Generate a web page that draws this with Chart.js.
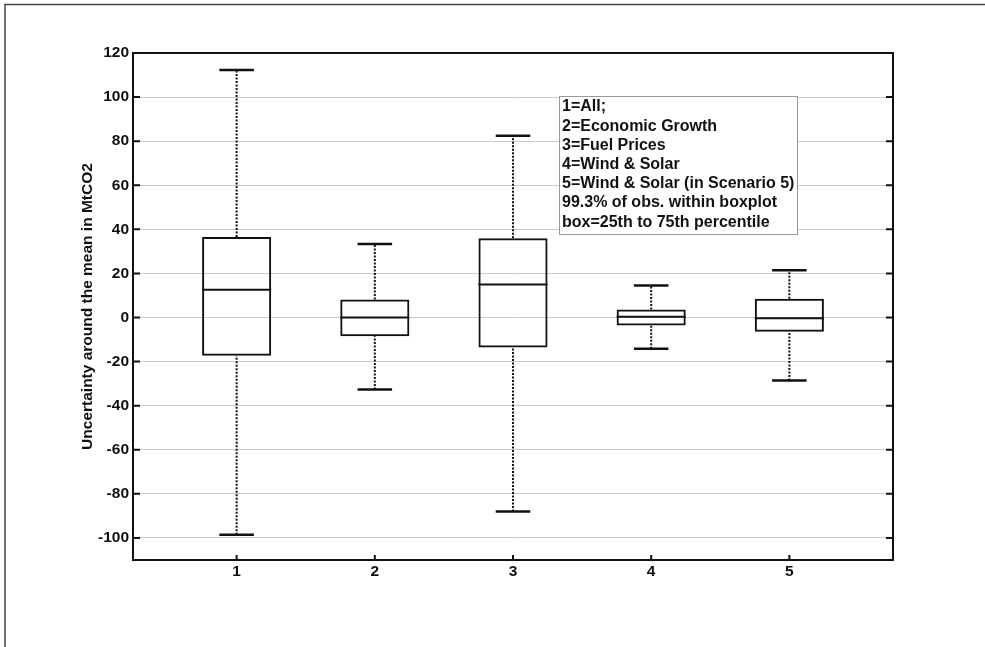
<!DOCTYPE html>
<html>
<head>
<meta charset="utf-8">
<script src="https://cdn.jsdelivr.net/npm/chart.js@4.4.1/dist/chart.umd.min.js"></script>
<style>
  body { margin: 0; background: #fff; }
  #wrap { position: relative; width: 985px; height: 647px; }
</style>
</head>
<body>
<div id="wrap"><canvas id="boxchart"></canvas></div>
<script>
// Scenario categories (x tick labels)
var categories = ['1', '2', '3', '4', '5'];

// Box plot statistics, MtCO2 around the mean
var whiskerLow  = [-98.6, -32.7, -88.0, -14.2, -28.6];
var quart1      = [-17.3,  -8.5, -13.6,  -3.6,  -6.4];
var median      = [ 12.6,   0.0,  15.0,   0.3,  -0.3];
var quart3      = [ 36.5,   8.2,  36.0,   3.6,   8.5];
var whiskerHigh = [112.3,  33.3,  82.5,  14.5,  21.5];

// Y axis tick range
var yMin = -110, yMax = 120, yStep = 20;

// Text in the annotation box
var noteLines = [
    '1=All;',
    '2=Economic Growth',
    '3=Fuel Prices',
    '4=Wind & Solar',
    '5=Wind & Solar (in Scenario 5)',
    '99.3% of obs. within boxplot',
    'box=25th to 75th percentile'
];

var positions = categories.map(function (c, i) { return i + 1; });
var boxHalf = 0.25, capHalf = 0.125;

// segments joined by null points so the line breaks between boxes
function segments(fn) {
    var pts = [];
    positions.forEach(function (x, i) {
        fn(x, i).forEach(function (p) { pts.push(p); });
        pts.push({ x: x + 0.5, y: null });
    });
    return pts;
}

var whiskerData = segments(function (x, i) {
    return [{ x: x, y: whiskerLow[i] }, { x: x, y: quart1[i] }, { x: x + 0.01, y: null },
            { x: x, y: quart3[i] }, { x: x, y: whiskerHigh[i] }];
});
var capData = segments(function (x, i) {
    return [{ x: x - capHalf, y: whiskerLow[i] }, { x: x + capHalf, y: whiskerLow[i] }, { x: x + 0.02, y: null },
            { x: x - capHalf, y: whiskerHigh[i] }, { x: x + capHalf, y: whiskerHigh[i] }];
});
var medianData = segments(function (x, i) {
    return [{ x: x - boxHalf, y: median[i] }, { x: x + boxHalf, y: median[i] }];
});

var fontFam = '"Liberation Sans", Arial, Helvetica, sans-serif';

// frame, inward ticks, outer page border and the note box
var framePlugin = {
    id: 'frame',
    afterDatasetsDraw: function (chart) {
        var ctx = chart.ctx, a = chart.chartArea;
        var ys = chart.scales.y, xs = chart.scales.x;
        ctx.save();
        // page border
        ctx.strokeStyle = '#444';
        ctx.lineWidth = 1.5;
        ctx.beginPath();
        ctx.moveTo(5, chart.height);
        ctx.lineTo(5, 4.5);
        ctx.lineTo(chart.width, 4.5);
        ctx.stroke();

        // inward ticks
        ctx.strokeStyle = '#111';
        ctx.lineWidth = 2;
        ctx.beginPath();
        ys.ticks.forEach(function (t) {
            var py = ys.getPixelForValue(t.value);
            ctx.moveTo(a.left, py); ctx.lineTo(a.left + 7, py);
            ctx.moveTo(a.right, py); ctx.lineTo(a.right - 7, py);
        });
        xs.ticks.forEach(function (t) {
            var px = xs.getPixelForValue(t.value);
            ctx.moveTo(px, a.bottom); ctx.lineTo(px, a.bottom - 5);
        });
        ctx.stroke();

        // axes box
        ctx.strokeRect(a.left, a.top, a.right - a.left, a.bottom - a.top);

        // note box
        var bx = a.left + 426, by = a.top + 43, bw = 238, bh = 138;
        ctx.fillStyle = '#fff';
        ctx.fillRect(bx, by, bw, bh);
        ctx.strokeStyle = '#999';
        ctx.lineWidth = 1;
        ctx.strokeRect(bx + 0.5, by + 0.5, bw, bh);
        ctx.fillStyle = '#111';
        ctx.font = 'bold 16px ' + fontFam;
        ctx.textBaseline = 'middle';
        ctx.textAlign = 'left';
        noteLines.forEach(function (s, i) {
            ctx.fillText(s, bx + 3, by + 11 + i * 19.2);
        });
        ctx.restore();
    }
};

var ctx = document.getElementById('boxchart').getContext('2d');

var boxchart = new Chart(ctx, {
    type: 'bar',
    data: {
        datasets: [{
            type: 'bar',
            label: 'IQR',
            data: positions.map(function (x, i) { return { x: x, y: [quart1[i], quart3[i]] }; }),
            backgroundColor: 'rgba(255,255,255,0)',
            borderColor: '#111',
            borderWidth: 2,
            borderSkipped: false,
            categoryPercentage: 1,
            barPercentage: 0.5
        }, {
            type: 'line',
            label: 'whiskers',
            data: whiskerData,
            borderColor: '#111',
            borderWidth: 2,
            borderDash: [2, 1.5],
            pointRadius: 0,
            spanGaps: false
        }, {
            type: 'line',
            label: 'caps',
            data: capData,
            borderColor: '#111',
            borderWidth: 2.5,
            pointRadius: 0,
            spanGaps: false
        }, {
            type: 'line',
            label: 'median',
            data: medianData,
            borderColor: '#111',
            borderWidth: 2,
            pointRadius: 0,
            spanGaps: false
        }]
    },
    options: {
        responsive: true,
        maintainAspectRatio: false,
        animation: false,
        layout: { padding: { left: 70, top: 53, right: 92, bottom: 0 } },
        scales: {
            x: {
                type: 'linear',
                offset: false,
                min: 0.25,
                max: 5.75,
                afterBuildTicks: function (s) {
                    s.ticks = positions.map(function (v) { return { value: v }; });
                },
                afterFit: function (s) { s.height = 87; },
                grid: { display: false, drawTicks: false, offset: false },
                border: { display: true, color: '#111', width: 2 },
                ticks: {
                    padding: 2,
                    color: '#111',
                    font: { family: fontFam, size: 15.5, weight: 'bold' },
                    callback: function (v) { return categories[v - 1]; }
                }
            },
            y: {
                min: yMin,
                max: yMax,
                afterFit: function (s) { s.width = 63; },
                grid: { color: '#cbcbcb', lineWidth: 1, drawTicks: false },
                border: { display: true, color: '#111', width: 2 },
                ticks: {
                    stepSize: yStep,
                    includeBounds: false,
                    padding: 4,
                    color: '#111',
                    font: { family: fontFam, size: 15.5, weight: 'bold' }
                },
                title: {
                    display: true,
                    text: 'Uncertainty around the mean in MtCO2',
                    color: '#111',
                    padding: { top: 8, bottom: 0 },
                    font: { family: fontFam, size: 15.5, weight: 'bold' }
                }
            }
        },
        plugins: {
            legend: { display: false },
            tooltip: { enabled: false }
        }
    },
    plugins: [framePlugin]
});
</script>
</body>
</html>
